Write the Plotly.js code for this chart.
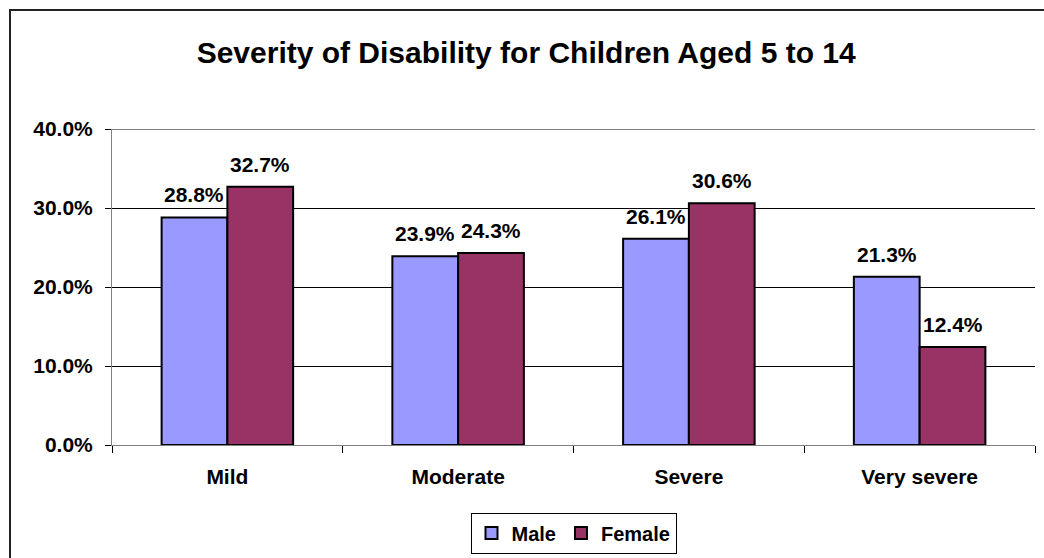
<!DOCTYPE html>
<html>
<head>
<meta charset="utf-8">
<script src="https://cdn.plot.ly/plotly-3.0.1.min.js"></script>
<style>
  html, body { margin: 0; padding: 0; background: #ffffff; }
  #chart { width: 1044px; height: 558px; }
</style>
</head>
<body>
<div id="chart"></div>
<script>
// ---- Data ----
const categories = ["Mild", "Moderate", "Severe", "Very severe"];
const maleValues = [0.288, 0.239, 0.261, 0.213];
const femaleValues = [0.327, 0.243, 0.306, 0.124];
const seriesNames = ["Male", "Female"];
const yTickValues = [0, 0.1, 0.2, 0.3, 0.4];
const chartTitle = "Severity of Disability for Children Aged 5 to 14";

// ---- Layout constants ----
const W = 1044, H = 558;
const M = { l: 112, r: 9, t: 129, b: 113, autoexpand: false };
const plotW = W - M.l - M.r;
const plotH = H - M.t - M.b;
const bargap = 0.43;
const FONT = '"Liberation Sans", Arial, Helvetica, sans-serif';

const colors = ["#9999FF", "#993366"];
const seriesValues = [maleValues, femaleValues];

const traces = seriesValues.map((vals, i) => ({
  type: 'bar',
  name: seriesNames[i],
  x: categories,
  y: vals,
  marker: { color: colors[i], line: { color: '#000000', width: 2 } },
  hoverinfo: 'skip'
}));

// data labels via annotations at data coordinates
const catW = plotW / categories.length;
const barW = catW * (1 - bargap) / 2;
const annotations = [];
seriesValues.forEach((vals, i) => {
  vals.forEach((v, j) => {
    annotations.push({
      x: categories[j], y: v, xref: 'x', yref: 'y',
      xshift: (i === 0 ? -1 : 1) * barW / 2,
      yshift: 9,
      yanchor: 'bottom', xanchor: 'center',
      text: (v * 100).toFixed(1) + '%',
      showarrow: false,
      font: { family: FONT, size: 21, color: '#000000', weight: 'bold' }
    });
  });
});

const px2x = p => (p - M.l) / plotW;
const py2y = p => (M.t + plotH - p) / plotH;

const layout = {
  width: W, height: H,
  margin: M,
  paper_bgcolor: '#ffffff',
  plot_bgcolor: '#ffffff',
  showlegend: true,
  barmode: 'group',
  bargap: bargap,
  bargroupgap: 0,
  title: {
    text: chartTitle,
    font: { family: FONT, size: 30, color: '#000000', weight: 'bold' },
    xref: 'container', x: 0.504, xanchor: 'center',
    yref: 'container', y: 1 - 52 / H, yanchor: 'middle'
  },
  xaxis: {
    type: 'category',
    automargin: false,
    showgrid: false,
    showline: true, linecolor: '#808080', linewidth: 1,
    ticks: 'outside', tickson: 'boundaries', ticklen: 7, tickcolor: '#000000', tickwidth: 1,
    ticklabelstandoff: 13,
    tickfont: { family: FONT, size: 21, color: '#000000', weight: 'bold' },
    fixedrange: true
  },
  yaxis: {
    range: [0, 0.4],
    automargin: false,
    tickvals: yTickValues,
    tickformat: '.1%',
    showgrid: true, gridcolor: '#000000', gridwidth: 1,
    zeroline: false,
    showline: true, linecolor: '#808080', linewidth: 1,
    ticks: 'outside', ticklen: 6, tickcolor: '#000000', tickwidth: 1,
    ticklabelstandoff: 8,
    tickfont: { family: FONT, size: 21, color: '#000000', weight: 'bold' },
    fixedrange: true
  },
  legend: {
    orientation: 'h',
    x: 0.5, xanchor: 'center',
    y: py2y(533), yanchor: 'middle',
    bgcolor: '#ffffff',
    bordercolor: '#000000', borderwidth: 1,
    font: { family: FONT, size: 20, color: '#000000', weight: 'bold' },
    itemwidth: 30,
    tracegroupgap: 0
  },
  annotations: annotations,
  shapes: [{
    type: 'rect', xref: 'paper', yref: 'paper',
    x0: px2x(10), x1: px2x(1060),
    y0: py2y(580), y1: py2y(10),
    line: { color: '#222222', width: 2 },
    fillcolor: 'rgba(0,0,0,0)',
    layer: 'below'
  }, {
    // top gridline at the highest tick value
    type: 'line', xref: 'paper', yref: 'y',
    x0: 0, x1: 1,
    y0: yTickValues[yTickValues.length - 1], y1: yTickValues[yTickValues.length - 1],
    line: { color: '#000000', width: 1 },
    layer: 'below'
  }]
};

Plotly.newPlot('chart', traces, layout, { displayModeBar: false, staticPlot: true });
</script>
</body>
</html>
